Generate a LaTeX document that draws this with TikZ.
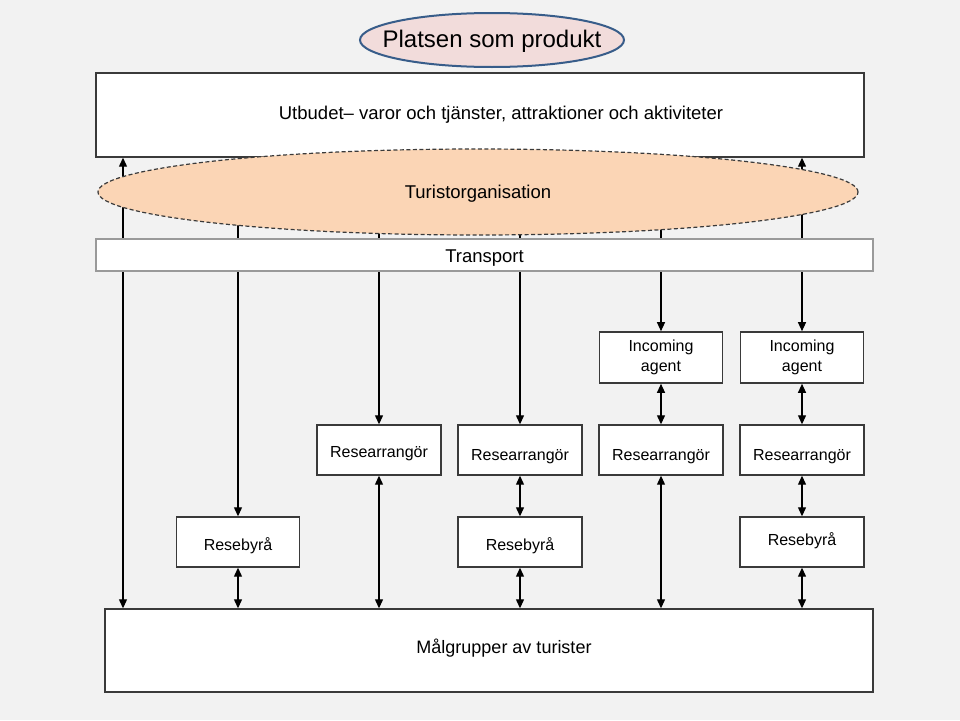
\documentclass[tikz,border=0pt]{standalone}
\usepackage{fontspec}
\setmainfont{Liberation Sans}
\usetikzlibrary{arrows.meta,shapes.geometric}
\definecolor{bggray}{HTML}{F2F2F2}
\definecolor{titlefill}{HTML}{F2DCDB}
\definecolor{titleline}{HTML}{385D8A}
\definecolor{orgfill}{HTML}{FBD5B5}
\definecolor{boxline}{HTML}{3A3A3A}
\definecolor{thinline}{HTML}{9A9A9A}
\tikzset{
  box/.style={draw=boxline,fill=white,line width=1.4pt,inner sep=0pt,
    minimum width=124pt,minimum height=50pt,align=center,
    font=\fontsize{16}{20}\selectfont},
  one/.style={text height=11.5pt,text depth=3.5pt},
  wide/.style={box,minimum width=768pt,font=\fontsize{18.5}{20}\selectfont},
  link/.style={line width=1.2pt,-{Triangle[length=9pt,width=8pt]}},
  both/.style={line width=1.2pt,{Triangle[length=9pt,width=8pt]}-{Triangle[length=9pt,width=8pt]}},
}

\begin{document}
\begin{tikzpicture}[x=1pt,y=-1pt]
            \fill[bggray] (0,0) rectangle (960,720);
            \node[ellipse,draw=titleline,line width=2pt,fill=titlefill,inner xsep=-20pt,inner ysep=0pt,
              text height=17pt,text depth=5pt,
              minimum width=264pt,minimum height=54pt,font=\fontsize{24}{26}\selectfont]
              (plats) at (492,40) {\raisebox{-1pt}{Platsen som produkt}};
            \node[wide,minimum height=84pt,
              label={[xshift=21pt,yshift=0pt,font=\fontsize{18.5}{20}\selectfont]center:Utbudet-- varor och tjänster, attraktioner och aktiviteter}]
              (utbud) at (480,115) {};
            \node[box,minimum width=123pt,minimum height=51pt,line width=1.6pt] (inc1) at (661,357.5) {Incoming\\agent};
            \node[box,minimum width=123pt,minimum height=51pt,line width=1.6pt] (inc2) at (802,357.5) {Incoming\\agent};
            \node[box,one] (res1) at (379,450) {\raisebox{-3pt}{Researrangör}};
            \node[box,one] (res2) at (520,450) {\raisebox{-6pt}{Researrangör}};
            \node[box,one] (res3) at (661,450) {\raisebox{-6pt}{Researrangör}};
            \node[box,one] (res4) at (802,450) {\raisebox{-6pt}{Researrangör}};
            \node[box,one,minimum width=123pt] (reb1) at (238,542) {\raisebox{-4pt}{Resebyrå}};
            \node[box,one] (reb2) at (520,542) {\raisebox{-4pt}{Resebyrå}};
            \node[box,one] (reb3) at (802,542) {\raisebox{1pt}{Resebyrå}};
            \node[wide,minimum height=83pt,
              label={[xshift=15pt,yshift=2pt,font=\fontsize{18}{20}\selectfont]center:Målgrupper av turister}]
              (malg) at (489,650.5) {};
            \coordinate (torg) at (478,192);
            \coordinate (side) at (123,0);
            \draw[both] (side |- malg.north) to (side |- utbud.south);
            \draw[link] (reb1.north |- torg) to (reb1.north);
            \draw[both] (reb1.south) to (reb1.south |- malg.north);
            \draw[link] (res1.north |- torg) to (res1.north);
            \draw[both] (res1.south) to (res1.south |- malg.north);
            \draw[link] (res2.north |- torg) to (res2.north);
            \draw[both] (res2.south) to (reb2.north);
            \draw[both] (reb2.south) to (reb2.south |- malg.north);
            \draw[link] (inc1.north |- torg) to (inc1.north);
            \draw[both] (inc1.south) to (res3.north);
            \draw[both] (res3.south) to (res3.south |- malg.north);
            \draw[both] (inc2.north |- utbud.south) to (inc2.north);
            \draw[both] (inc2.south) to (res4.north);
            \draw[both] (res4.south) to (reb3.north);
            \draw[both] (reb3.south) to (reb3.south |- malg.north);
            \node[ellipse,draw=boxline,dashed,dash pattern=on 4pt off 2.5pt,line width=1.2pt,
              fill=orgfill,inner sep=0pt,minimum width=760pt,minimum height=86pt,
              text height=13.3pt,text depth=3.9pt,
              font=\fontsize{18.5}{20}\selectfont] (tur) at (torg) {\raisebox{-2pt}{Turistorganisation}};
            \node[draw=thinline,fill=white,line width=1.2pt,minimum width=777pt,minimum height=32pt,
              inner sep=0pt,text height=13.3pt,text depth=3.9pt,
              font=\fontsize{18.5}{20}\selectfont] (trans) at (484.5,255) {\raisebox{-3pt}{Transport}};
          \end{tikzpicture}
\end{document}
